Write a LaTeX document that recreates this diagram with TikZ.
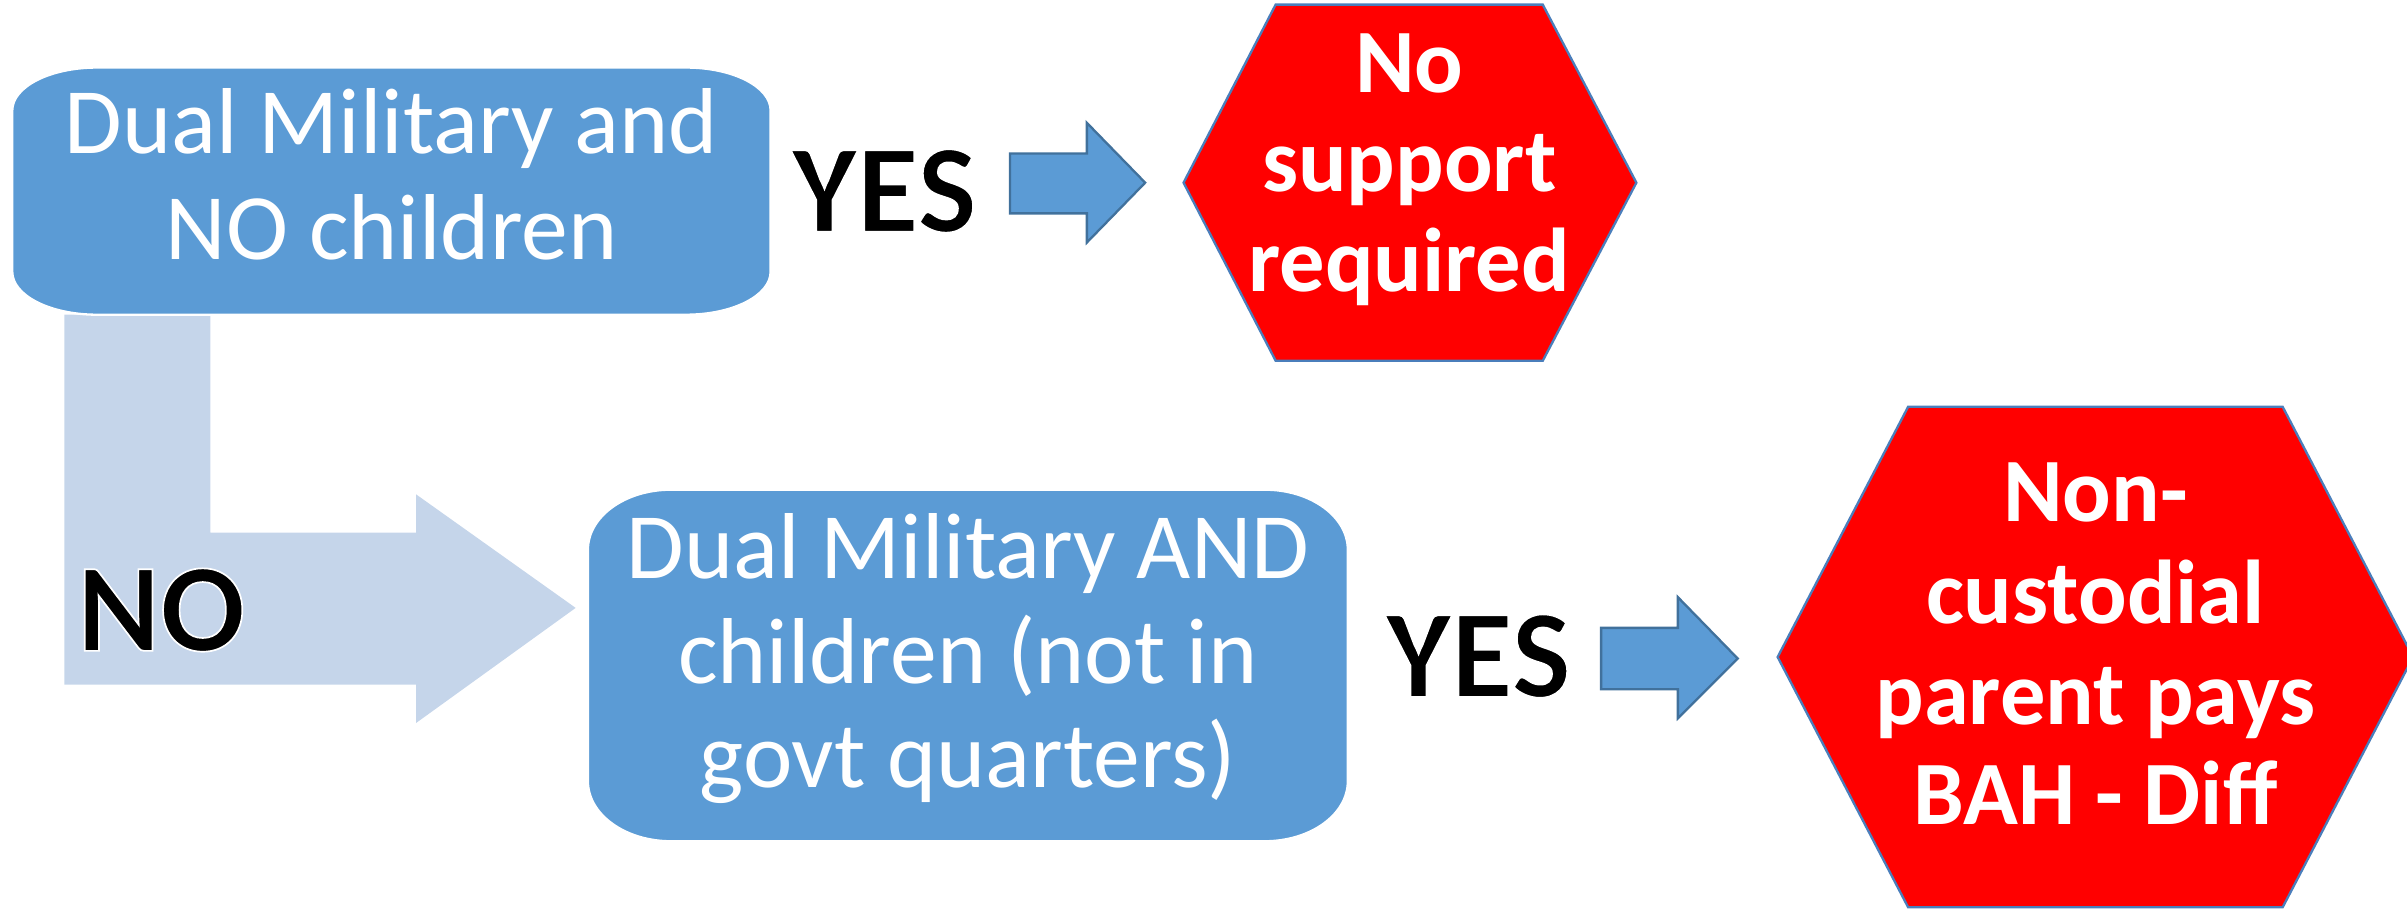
\documentclass[tikz,border=0pt]{standalone}
\usepackage{fontspec}
\setmainfont{Carlito}
\definecolor{boxblue}{HTML}{5B9BD5}
\definecolor{lightarrow}{HTML}{C5D5EA}
\definecolor{arrowline}{HTML}{41719C}
\definecolor{stopred}{HTML}{FF0000}
\definecolor{hexline}{HTML}{4A7EBB}
\newcommand\outlinetext[1]{\special{pdf:literal direct 2 Tr 1 1 1 RG 1.1 w}#1\special{pdf:literal direct 0 Tr}}
\tikzset{
 boxtext/.style={anchor=base, inner sep=0, text=white, font=\fontsize{61}{68}\selectfont},
 stoptext/.style={anchor=base, inner sep=0, text=white, font=\bfseries\fontsize{59}{66}\selectfont},
 answer/.style={anchor=base, inner sep=0, text=black, font=\bfseries\fontsize{82}{90}\selectfont},
 decision/.style={fill=boxblue, draw=white, line width=1.5pt},
 stopsign/.style={fill=stopred, draw=hexline, line width=1.5pt},
 blockarrow/.style={fill=boxblue, draw=arrowline, line width=1.5pt},
 noarrow/.style={fill=lightarrow},
}
\begin{document}
\begin{tikzpicture}[x=1pt,y=-1pt]
\useasboundingbox (0,0) rectangle (1568,595);
\clip (0,0) rectangle (1568,595);
% L-shaped NO arrow
\path[noarrow] (42,205) -- (137,205) -- (137,347) -- (271,347) -- (271,322) -- (375,396)
  -- (271,471) -- (271,446) -- (42,446) -- cycle;
% decision box 1
\path[decision] (8,72) .. controls (8,56.5) and (32.6,44) .. (63,44) -- (447,44)
  .. controls (477.4,44) and (502,56.5) .. (502,72) -- (502,177)
  .. controls (502,192.5) and (477.4,205) .. (447,205) -- (63,205)
  .. controls (32.6,205) and (8,192.5) .. (8,177) -- cycle;
\node[boxtext] (b1a) at (255,100) {Dual Military and};
\node[boxtext] (b1b) at (255,169) {NO children};
% decision box 2
\path[decision] (383,358) .. controls (383,336.5) and (407.2,319) .. (437,319) -- (824,319)
  .. controls (853.8,319) and (878,336.5) .. (878,358) -- (878,509)
  .. controls (878,530.5) and (853.8,548) .. (824,548) -- (437,548)
  .. controls (407.2,548) and (383,530.5) .. (383,509) -- cycle;
\node[boxtext] (b2a) at (630.5,377) {Dual Military AND};
\node[boxtext] (b2b) at (630.5,445) {children (not in};
\node[boxtext] (b2c) at (630.5,513) {govt quarters)};
% YES arrows
\path[blockarrow] (658,100) -- (708,100) -- (708,80) -- (746,119) -- (708,158) -- (708,139) -- (658,139) -- cycle;
\path[blockarrow] (1043,409) -- (1093,409) -- (1093,389) -- (1132,429) -- (1093,468) -- (1093,449) -- (1043,449) -- cycle;
% stop hexagons
\path[stopsign] (831,3) -- (1005,3) -- (1066,119) -- (1005,235) -- (831,235) -- (771,119) -- cycle;
\node[stoptext] (s1a) at (918,60) {No};
\node[stoptext] (s1b) at (918,125) {support};
\node[stoptext] (s1c) at (918,190) {required};
\path[stopsign] (1243,265) -- (1487,265) -- (1572,428) -- (1487,591) -- (1243,591) -- (1158,428) -- cycle;
\node[stoptext] (s2a) at (1365,340) {Non-};
\node[stoptext] (s2b) at (1365,406) {custodial};
\node[stoptext] (s2c) at (1365,472) {parent pays};
\node[stoptext] (s2d) at (1365,537) {BAH - Diff};
% answers
\node[answer] (yes1) at (576,151) {\outlinetext{YES}};
\node[answer] (yes2) at (963,454) {\outlinetext{YES}};
\node[answer] (no1) at (105,424) {\outlinetext{NO}};
\end{tikzpicture}
\end{document}
